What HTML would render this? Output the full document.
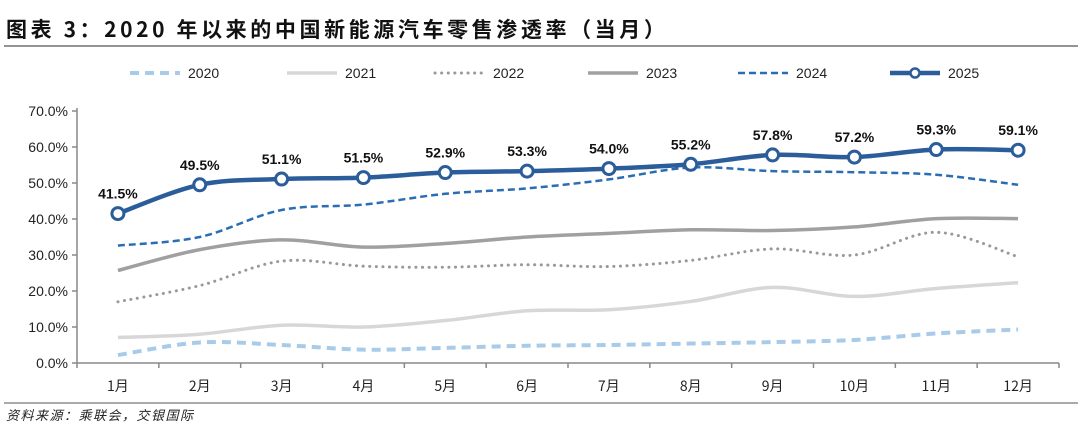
<!DOCTYPE html>
<html><head><meta charset="utf-8"><style>
body{margin:0;background:#fff;width:1080px;height:429px;overflow:hidden;font-family:"Liberation Sans","Noto Sans CJK SC",sans-serif}
</style></head><body>
<svg id="c" width="1080" height="429" xmlns="http://www.w3.org/2000/svg">
<text x="6" y="37" font-size="21" font-weight="bold" letter-spacing="3.6" fill="#111" font-family="'Noto Sans CJK SC',sans-serif">图表 3：2020 年以来的中国新能源汽车零售渗透率（当月）</text>
<line x1="4" y1="46" x2="1078" y2="46" stroke="#555" stroke-width="1.2"/>
<line x1="4" y1="403" x2="1078" y2="403" stroke="#555" stroke-width="1"/>
<text x="6" y="420" font-size="13" font-style="italic" letter-spacing="1.5" fill="#222" font-family="'Noto Sans CJK SC',sans-serif">资料来源：乘联会，交银国际</text>
<g id="g"></g>
</svg>
<script>
const categories=["1月","2月","3月","4月","5月","6月","7月","8月","9月","10月","11月","12月"];
const yTicks=[0,10,20,30,40,50,60,70];
const years=["2020","2021","2022","2023","2024","2025"];
const s2020=[2.2,5.7,5.0,3.7,4.2,4.8,5.0,5.4,5.8,6.4,8.2,9.3];
const s2021=[7.1,8.0,10.5,10.0,11.8,14.5,14.8,17.1,21.0,18.5,20.7,22.3];
const s2022=[17.0,21.5,28.3,26.9,26.6,27.3,26.8,28.5,31.7,30.0,36.3,29.5];
const s2023=[25.7,31.5,34.2,32.2,33.2,35.0,36.0,37.0,36.8,37.8,40.1,40.1];
const s2024=[32.6,35.0,42.5,44.0,47.0,48.5,51.0,54.3,53.3,53.0,52.3,49.5];
const s2025=[41.5,49.5,51.1,51.5,52.9,53.3,54.0,55.2,57.8,57.2,59.3,59.1];
const NS="http://www.w3.org/2000/svg",g=document.getElementById('g');
const x0=77,x1=1059,y0=363,yTop=111;
const step=(x1-x0)/categories.length;
const X=i=>x0+step*(i+0.5);
const Y=v=>y0-(v/70)*(y0-yTop);
function mk(t,a,p){const e=document.createElementNS(NS,t);for(const k in a)e.setAttribute(k,a[k]);(p||g).appendChild(e);return e;}
let e;
e=mk('line',{x1:x0,y1:yTop-3,x2:x0,y2:y0,stroke:'#888','stroke-width':1.5});


e=mk('line',{x1:x0,y1:y0,x2:x1,y2:y0,stroke:'#888','stroke-width':1.5});


yTicks.forEach(v=>{
 e=mk('text',{x:x0-9,y:Y(v)+5,'text-anchor':'end','font-size':14,fill:'#222'});e.textContent=v.toFixed(1)+'%';
 
 
 mk('line',{x1:x0-5,y1:Y(v),x2:x0,y2:Y(v),stroke:'#888','stroke-width':1.5});
});
for(let i=0;i<=categories.length;i++)mk('line',{x1:x0+step*i,y1:y0,x2:x0+step*i,y2:y0+5,stroke:'#888','stroke-width':1.5});
categories.forEach((c,i)=>{e=mk('text',{x:X(i),y:y0+28,'text-anchor':'middle','font-size':14,fill:'#222','font-family':"'Noto Sans CJK SC',sans-serif"});e.textContent=c;
 
 });
function path(d){const p=d.map((v,i)=>[X(i),Y(v)]);let s='M'+p[0];for(let i=0;i<p.length-1;i++){const a=p[i-1]||p[i],b=p[i],c=p[i+1],dd=p[i+2]||c;const t=1/6;s+=' C'+(b[0]+(c[0]-a[0])*t)+','+(b[1]+(c[1]-a[1])*t)+' '+(c[0]-(dd[0]-b[0])*t)+','+(c[1]-(dd[1]-b[1])*t)+' '+c;}return s;}
const styles=[
 {c:'#a9cbea',w:4,d:'9,6'},{c:'#d9d6da',w:3.5,d:''},{c:'#999',w:3,d:'0.1,6.5'},
 {c:'#a0a0a0',w:3.5,d:''},{c:'#2a6db5',w:2.5,d:'7,4'},{c:'#2b5d9a',w:4.5,d:''}];
const series=[s2020,s2021,s2022,s2023,s2024,s2025];
series.forEach((s,k)=>{const st=styles[k];
 e=mk('path',{d:path(s),fill:'none',stroke:st.c,'stroke-width':st.w,'stroke-dasharray':st.d,'stroke-linecap':k==2?'round':'butt'});
 
 
});
s2025.forEach((v,i)=>{
 e=mk('circle',{cx:X(i),cy:Y(v),r:6,fill:'#fff',stroke:'#2b5d9a','stroke-width':3});
 
 
 e=mk('text',{x:X(i),y:Y(v)-15,'text-anchor':'middle','font-size':14,'font-weight':'bold',fill:'#111'});e.textContent=v.toFixed(1)+'%';
 
 
});
const legX=[130,287,435,588,738,890];
years.forEach((y,k)=>{const st=styles[k],lx=legX[k],ly=73;
 const lg=mk('g',{});
 
 
 mk('line',{x1:lx,y1:ly,x2:lx+50,y2:ly,stroke:st.c,'stroke-width':st.w,'stroke-dasharray':st.d,'stroke-linecap':k==2?'round':'butt'},lg);
 if(k==5)mk('circle',{cx:lx+25,cy:ly,r:4.5,fill:'#fff',stroke:'#2b5d9a','stroke-width':2.5},lg);
 const t=mk('text',{x:lx+58,y:ly+5,'font-size':14,fill:'#222'},lg);t.textContent=y;
});
</script>
</body></html>
